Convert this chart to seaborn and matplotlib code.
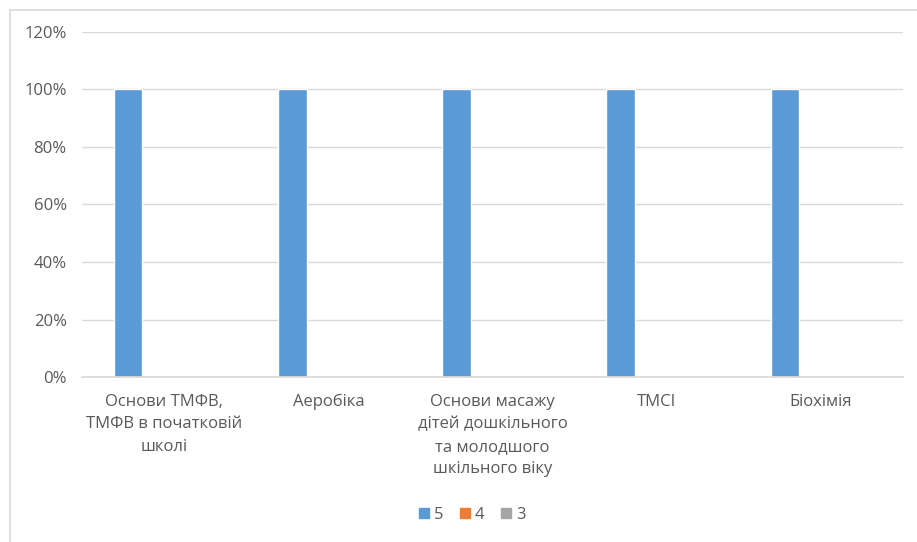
import pandas as pd
import matplotlib.pyplot as plt
import seaborn as sns
from matplotlib.ticker import PercentFormatter, MultipleLocator
from matplotlib.patches import Rectangle

sns.set_theme(style="white")
plt.rcParams['font.family'] = ['Open Sans', 'DejaVu Sans']

categories = [
    "Основи ТМФВ,\nТМФВ в початковій\nшколі",
    "Аеробіка",
    "Основи масажу\nдітей дошкільного\nта молодшого\nшкільного віку",
    "ТМСІ",
    "Біохімія",
]
grades = ["5", "4", "3"]
share_5 = [1.0, 1.0, 1.0, 1.0, 1.0]
share_4 = [0.0, 0.0, 0.0, 0.0, 0.0]
share_3 = [0.0, 0.0, 0.0, 0.0, 0.0]
colors = ["#5B9BD5", "#ED7D31", "#A5A5A5"]

df = pd.DataFrame({
    "category": categories * 3,
    "grade": ["5"] * 5 + ["4"] * 5 + ["3"] * 5,
    "share": share_5 + share_4 + share_3,
})

fig = plt.figure(figsize=(9.17, 5.42), dpi=100)
ax = fig.add_axes([0.0894, 0.3044, 0.8956, 0.6366])

sns.barplot(data=df, x="category", y="share", hue="grade", hue_order=grades,
            palette=colors, width=0.66, gap=0.2, saturation=1, ax=ax,
            legend=False)

ax.set_ylim(0, 1.2)
ax.set_xlim(-0.5, 4.5)
ax.yaxis.set_major_locator(MultipleLocator(0.2))
ax.yaxis.set_major_formatter(PercentFormatter(1.0, decimals=0))
ax.grid(axis="y", color="#D9D9D9", linewidth=1)
ax.set_axisbelow(True)
for s in ["top", "right", "left"]:
    ax.spines[s].set_visible(False)
ax.spines["bottom"].set_color("#D9D9D9")
ax.set_xlabel("")
ax.set_ylabel("")
ax.tick_params(axis="both", length=0, labelsize=12, labelcolor="#595959")
ax.tick_params(axis="x", pad=12)
ax.tick_params(axis="y", pad=11)
for lbl in ax.get_xticklabels():
    lbl.set_linespacing(1.55)
    lbl.set_verticalalignment("top")

handles = [Rectangle((0, 0), 1, 1, color=c) for c in colors]
fig.legend(handles, grades, loc="center", bbox_to_anchor=(0.515, 0.05), ncol=3,
           frameon=False, handlelength=0.6, handleheight=0.6, handletextpad=0.3,
           columnspacing=1.0, labelcolor="#595959", fontsize=12)

# outer chart frame
fig.add_artist(plt.Line2D([0.011, 0.011], [0.0, 0.982], color="#D9D9D9", lw=1.2,
                          transform=fig.transFigure))
fig.add_artist(plt.Line2D([0.011, 1.0], [0.982, 0.982], color="#D9D9D9", lw=1.2,
                          transform=fig.transFigure))

fig.savefig("out.png", dpi=100, facecolor="white")
